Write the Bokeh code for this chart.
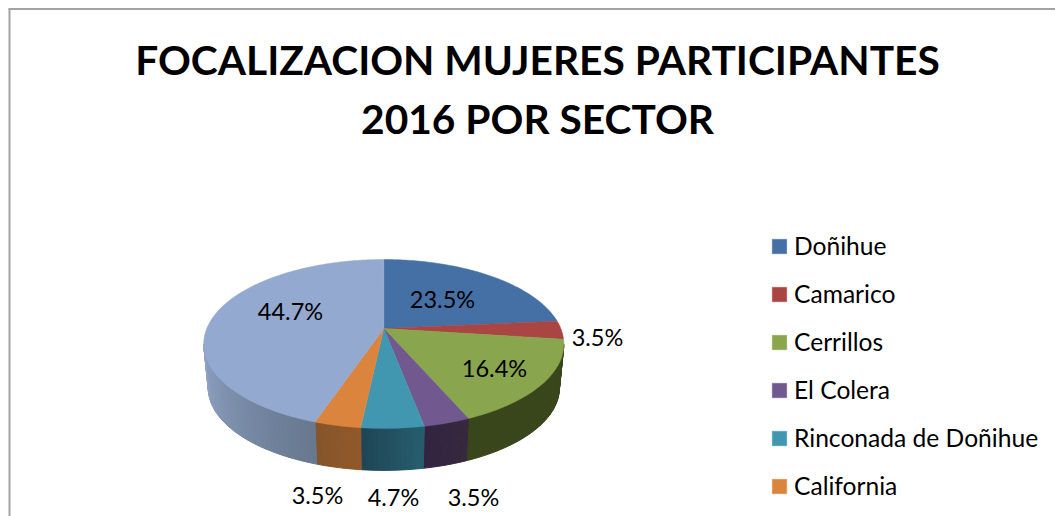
import math
from bokeh.plotting import figure
from bokeh.models import Legend, LegendItem
from bokeh.core.properties import value
from bokeh.embed import file_html
from bokeh.resources import INLINE

TITLE_LINES = ["FOCALIZACION MUJERES PARTICIPANTES", "2016 POR SECTOR"]
categories = ["Doñihue", "Camarico", "Cerrillos", "El Colera", "Rinconada de Doñihue", "California", ""]
percent = [23.5, 3.5, 16.4, 3.5, 4.7, 3.5, 44.7]
colors = ["#4470a6", "#a94542", "#89a54d", "#71588f", "#4197af", "#db843d", "#93a9cf"]
side_from = ["#2a4565", "#672a28", "#39461c", "#37283f", "#265d6d", "#91592a", "#67788f"]
side_to = ["#2a4565", "#672a28", "#39461c", "#322440", "#1f4656", "#85552a", "#8fa3c5"]
label_x = [442, 597, 494, 473, 393, 317, 290]
label_y = [298, 336, 367, 496, 496, 494, 310]

FONT = "Lato"
CX, CY = 383.3, 328.0
A, B, K = 177.0, 81.6, 0.183
DEPTH, SHRINK = 44.5, 0.975
W, H = 1055, 516


def rim(theta, wall=False):
    u, v = math.sin(theta), math.cos(theta)
    d = 1 + K * v
    x, y = A * u / d, B * v / d
    if wall:
        return CX + x * SHRINK, CY - y * SHRINK + DEPTH
    return CX + x, CY - y


def mix(c1, c2, t):
    a = [int(c1[i:i + 2], 16) for i in (1, 3, 5)]
    b = [int(c2[i:i + 2], 16) for i in (1, 3, 5)]
    return "#%02x%02x%02x" % tuple(round(p + (q - p) * t) for p, q in zip(a, b))


p = figure(width=W, height=H, x_range=(0, W), y_range=(H, 0),
           output_backend="svg", toolbar_location=None,
           x_axis_location=None, y_axis_location=None,
           min_border=0, outline_line_color=None, background_fill_color="white")
p.grid.visible = False

# chart frame
p.multi_line([[9, 9], [8, W]], [[H, 8], [8.5, 8.5]], line_color="#a3a3a3", line_width=2)

# walls
front0 = math.acos(-K)
front1 = 2 * math.pi - front0
edges = [0.0]
for v in percent:
    edges.append(edges[-1] + v / sum(percent) * 2 * math.pi)
wx, wy, wc = [], [], []
for i in range(len(percent)):
    a0, a1 = max(edges[i], front0), min(edges[i + 1], front1)
    if a1 <= a0:
        continue
    n = max(2, int((a1 - a0) / math.radians(1.5)))
    for j in range(n):
        t0 = a0 + (a1 - a0) * j / n
        t1 = a0 + (a1 - a0) * (j + 1) / n
        q = [rim(t0), rim(t1), rim(t1, True), rim(t0, True)]
        wx.append([c[0] for c in q])
        wy.append([c[1] for c in q])
        wc.append(mix(side_from[i], side_to[i], j / max(1, n - 1)))
p.patches(wx, wy, fill_color=wc, line_color=wc, line_width=1)

# top face
renderers = []
for i in range(len(percent)):
    n = max(4, int((edges[i + 1] - edges[i]) / math.radians(1)))
    pts = [(CX, CY)] + [rim(edges[i] + (edges[i + 1] - edges[i]) * j / n) for j in range(n + 1)]
    r = p.patch([c[0] for c in pts], [c[1] for c in pts], fill_color=colors[i],
                line_color=colors[i], line_width=0.5)
    renderers.append(r)

# labels
p.text(label_x, label_y, text=["%.1f%%" % v for v in percent], text_font=value(FONT),
       text_font_size="23.5px", text_color="#000000", text_align="center", text_baseline="middle")

# title
p.text([537, 537], [59, 117.5], text=TITLE_LINES, text_font=value(FONT), text_font_style="bold",
       text_font_size="40.7px", text_color="#000000", text_align="center", text_baseline="middle")

# legend (six visible rows); location is measured from the bottom-left of the frame
legend = Legend(
    items=[LegendItem(label=categories[i], renderers=[renderers[i]]) for i in range(6)],
    location=(770, H - 500), orientation="vertical", spacing=19, glyph_width=18, glyph_height=18,
    label_height=15, label_standoff=6, label_text_font=FONT, label_text_font_size="24.6px",
    label_text_color="#000000", border_line_color=None, background_fill_alpha=0,
    margin=0, padding=0,
)
p.add_layout(legend, "center")

open("out.html", "w").write(file_html(p, INLINE))
